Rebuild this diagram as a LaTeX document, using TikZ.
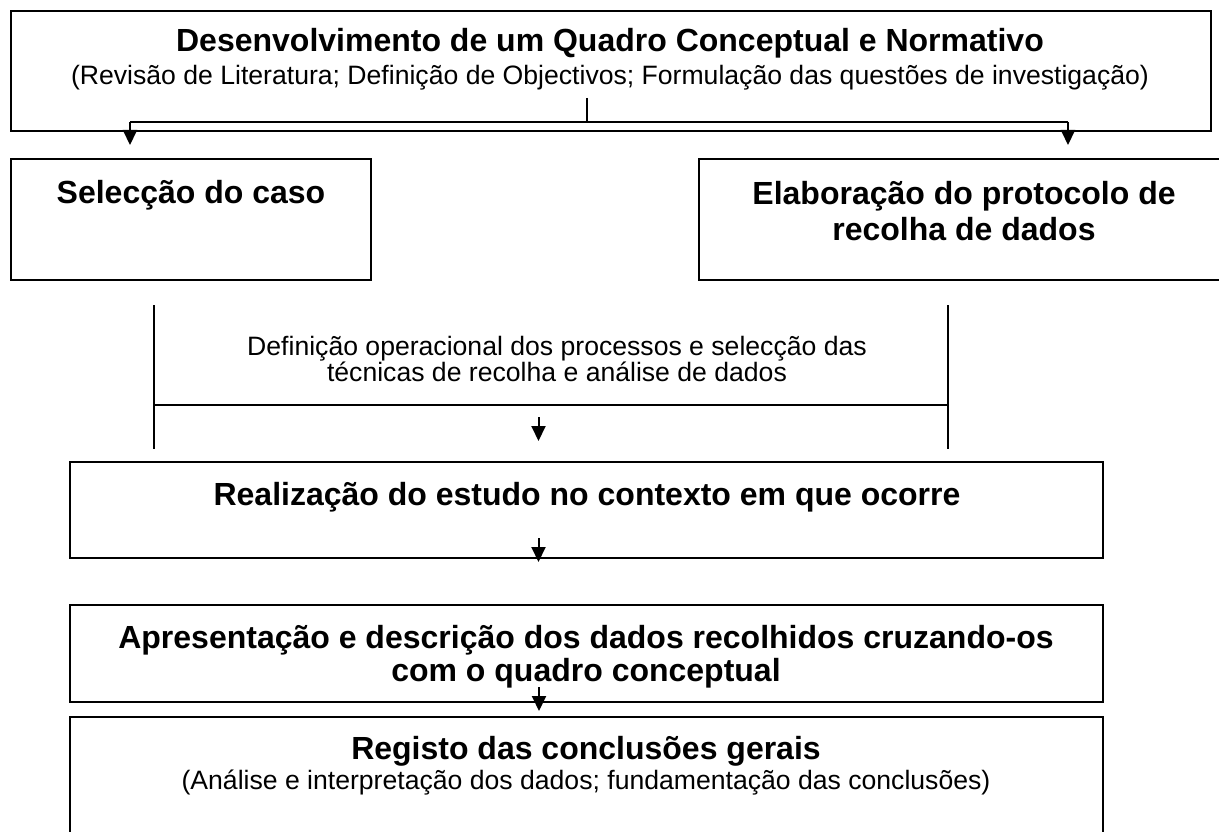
\documentclass[tikz,border=0pt]{standalone}
\usepackage{fontspec}
\setmainfont{Liberation Sans}
\usetikzlibrary{arrows.meta,positioning}
\newcommand{\framecolor}{black}
\tikzstyle{every node}=[inner sep=0, outer sep=0, align=center]
\tikzstyle{box}=[draw=\framecolor, line width=2]
\tikzstyle{head}=[font=\fontsize{32}{36}\selectfont\bfseries]
\tikzstyle{note}=[font=\fontsize{26.6}{23}\selectfont]
\tikzstyle{link}=[\framecolor, line width=2]
\tikzstyle{flow}=[link, -{Triangle[length=15,width=14]}]

\begin{document}
\begin{tikzpicture}[x=1pt, y=-1pt]
    \useasboundingbox (0, 0) rectangle (1219, 832);
    \clip (0, 0) rectangle (1219, 832);
    \node[box, minimum width=1200, minimum height=120] (quadro) at (611, 71) {};
    \node[box, minimum width=360, minimum height=121] (caso) at (191, 219.5) {};
    \node[box, minimum width=541, minimum height=121] (protocolo) at (969.5, 219.5) {};
    \node[box, minimum width=1033, minimum height=96] (estudo) at (586.5, 510) {};
    \node[box, minimum width=1033, minimum height=97] (dados) at (586.5, 653.5) {};
    \node[box, minimum width=1033, minimum height=146] (registo) at (586.5, 790) {};
    \node[head] (quadroT) at (610, 43) {Desenvolvimento de um Quadro Conceptual e Normativo};
    \node[note] (quadroS) at (610, 77.5) {(Revisão de Literatura; Definição de Objectivos; Formulação das questões de investigação)};
    \node[head] (casoT) at (191, 195) {Selecção do caso};
    \node[head] (protocoloT) at (964, 211) {Elaboração do protocolo de\\recolha de dados};
    \node[note] (tecnicas) at (557, 359) {Definição operacional dos processos e selecção das\\técnicas de recolha e análise de dados};
    \node[head] (estudoT) at (587, 497) {Realização do estudo no contexto em que ocorre};
    \node[head, font=\fontsize{32}{33}\selectfont\bfseries] (dadosT) at (586, 656.5) {Apresentação e descrição dos dados recolhidos cruzando-os\\com o quadro conceptual};
    \node[head] (registoT) at (586, 751) {Registo das conclusões gerais};
    \node[note] (registoS) at (586, 783) {(Análise e interpretação dos dados; fundamentação das conclusões)};
    \coordinate (split) at (587, 98);
    \coordinate (splitL) at (130, 122);
    \coordinate (splitR) at (1068, 122);
    \coordinate (tipL) at (130, 145);
    \coordinate (tipR) at (1068, 145);
    \coordinate (brL) at (154, 305);
    \coordinate (brR) at (948, 305);
    \coordinate (barL) at (154, 405);
    \coordinate (barR) at (948, 405);
    \coordinate (footL) at (154, 449);
    \coordinate (footR) at (948, 449);
    \coordinate (go) at (538.5, 417);
    \coordinate (goTip) at (538.5, 441);
    \coordinate (estudoA) at (538.5, 538);
    \coordinate (estudoB) at (538.5, 562);
    \coordinate (dadosA) at (539, 687);
    \coordinate (dadosB) at (539, 711);
    \draw[link] (split) -- (split |- splitL);
    \draw[link] (splitL) -- (splitR);
    \draw[flow] (splitL) -- (tipL);
    \draw[flow] (splitR) -- (tipR);
    \draw[link] (brL) -- (footL);
    \draw[link] (brR) -- (footR);
    \draw[link] (barL) -- (barR);
    \draw[flow] (go) -- (goTip);
    \draw[flow] (estudoA) -- (estudoB);
    \draw[flow] (dadosA) -- (dadosB);
\end{tikzpicture}
\end{document}
